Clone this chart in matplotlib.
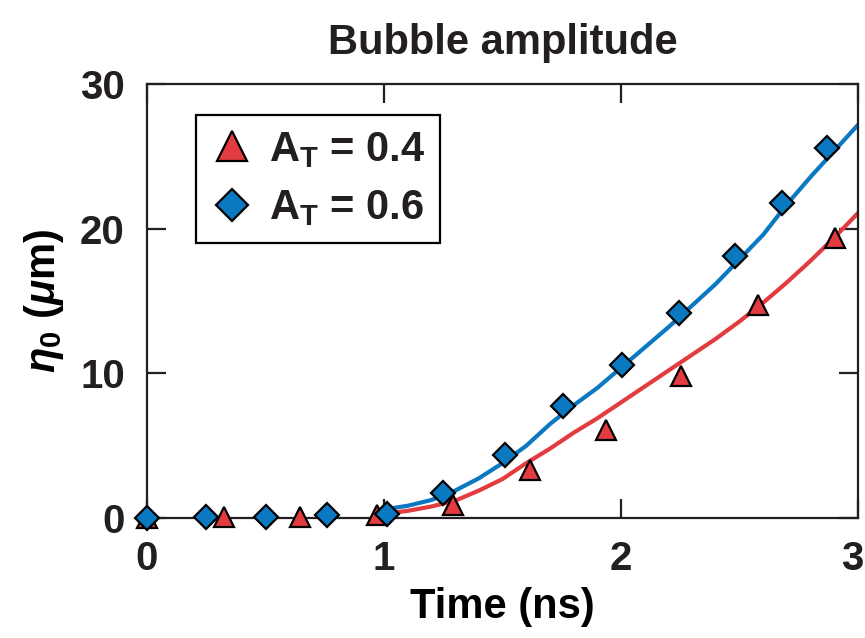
import numpy as np
import matplotlib
matplotlib.use("Agg")
import matplotlib.pyplot as plt
from matplotlib.transforms import ScaledTranslation

# measured points
t_04 = [0.0, 0.325, 0.645, 0.97, 1.29, 1.616, 1.935, 2.253, 2.577, 2.903]
eta_04 = [0.0, 0.1, 0.1, 0.2, 0.9, 3.3, 6.1, 9.8, 14.7, 19.35]

t_06 = [0.0, 0.249, 0.50, 0.758, 1.011, 1.25, 1.51, 1.757, 2.006, 2.245, 2.48, 2.68, 2.868]
eta_06 = [0.0, 0.1, 0.1, 0.2, 0.25, 1.7, 4.35, 7.76, 10.57, 14.2, 18.1, 21.8, 25.6]

# simulation curves
t_sim = [1.0, 1.1, 1.2, 1.3, 1.4, 1.5, 1.6, 1.7, 1.8, 1.9, 2.0,
         2.1, 2.2, 2.3, 2.4, 2.5, 2.6, 2.7, 2.8, 2.9, 3.0]
sim_04 = [0.3, 0.5, 0.8, 1.2, 1.9, 2.7, 3.8, 4.8, 5.9, 6.9, 8.0,
          9.1, 10.2, 11.3, 12.4, 13.6, 14.9, 16.3, 17.8, 19.4, 21.1]
sim_06 = [0.6, 0.85, 1.25, 1.9, 2.75, 3.8, 5.0, 6.5, 7.8, 9.0, 10.4,
          11.8, 13.2, 14.7, 16.2, 17.9, 19.6, 21.7, 23.6, 25.4, 27.2]

red = "#E23B40"
blue = "#0B79C2"
ink = "#231F20"

plt.rcParams.update({
    "font.family": ["Liberation Sans", "DejaVu Sans"],
    "font.weight": "bold",
    "mathtext.fontset": "custom",
    "mathtext.rm": "Liberation Sans:bold",
    "mathtext.it": "Liberation Sans:bold:italic",
    "mathtext.bf": "Liberation Sans:bold",
    "text.color": ink,
    "axes.edgecolor": ink,
    "xtick.color": ink,
    "ytick.color": ink,
})

fig = plt.figure(figsize=(8.65, 6.38), dpi=100)
ax = fig.add_axes([0.170, 0.188, 0.822, 0.680])

ax.plot(t_sim, sim_04, color=red, lw=3, zorder=2)
ax.plot(t_sim, sim_06, color=blue, lw=3, zorder=2)
ax.plot(t_04, eta_04, ls="none", marker="^", ms=15, mfc=red, mec="black",
        mew=1.6, clip_on=False, zorder=3, label=r"A$_\mathrm{T}$ = 0.4")
ax.plot(t_06, eta_06, ls="none", marker="D", ms=12, mfc=blue, mec="black",
        mew=1.6, clip_on=False, zorder=4, label=r"A$_\mathrm{T}$ = 0.6")

ax.set_xlim(0, 3)
ax.set_ylim(0, 30)
ax.set_xticks([0, 1, 2, 3])
ax.set_yticks([0, 10, 20, 30])
for s in ax.spines.values():
    s.set_linewidth(1.6)
ax.tick_params(direction="in", length=13.5, width=1.6, top=True, right=True,
               labelsize=29, pad=16)

# last x label sits flush with the figure edge, nudge it in a bit
lbl = ax.get_xticklabels()[-1]
lbl.set_transform(lbl.get_transform() + ScaledTranslation(-4 / 72, 0, fig.dpi_scale_trans))

ax.set_title("Bubble amplitude", fontsize=30, fontweight="bold", pad=22)
ax.set_xlabel("Time (ns)", fontsize=30, fontweight="bold", labelpad=6)
ax.set_ylabel(r"$\eta_\mathrm{0}$ ($\mu$m)", fontsize=30, fontweight="bold", labelpad=10)

leg = ax.legend(loc="upper left", bbox_to_anchor=(0.069, 0.929), borderaxespad=0,
                fontsize=30, markerscale=1.4, handlelength=1.0, handletextpad=0.4,
                borderpad=0.35, labelspacing=0.45, fancybox=False, framealpha=1)
leg.get_frame().set_edgecolor("black")
leg.get_frame().set_linewidth(1.6)

fig.savefig("out.png", dpi=100)
